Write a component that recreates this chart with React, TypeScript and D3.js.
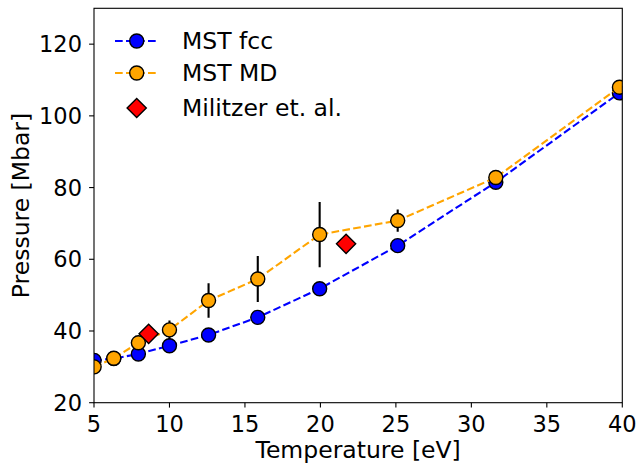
import React from "react";
import * as d3 from "d3";

// temperatures (eV) on a log grid, pressures in Mbar
const temps = [5.01, 6.31, 7.94, 10.0, 12.59, 15.85, 19.95, 25.12, 31.62, 39.81];
const fccPressure = [31.8, 32.3, 33.6, 35.9, 38.9, 43.8, 51.8, 63.8, 81.5, 106.4];
const mdPressure = [30.0, 32.4, 36.7, 40.3, 48.5, 54.5, 66.9, 70.8, 82.8, 108.0];
const mdError = [0.5, 0.5, 1.0, 2.6, 4.8, 6.4, 9.1, 3.1, 1.0, 1.0];
const militzerTemps = [8.62, 21.7];
const militzerPressure = [39.2, 64.3];

const xTicks = [5, 10, 15, 20, 25, 30, 35, 40];
const yTicks = [20, 40, 60, 80, 100, 120];
const legendLabels = ["MST fcc", "MST MD", "Militzer et. al."];

const W = 639;
const H = 464;
const m = { left: 94, right: 622.3, top: 8.3, bottom: 402.7 };
const font = "DejaVu Sans, sans-serif";
const tickFs = 22.5;
const labelFs = 23.5;

const BLUE = "#0000ff";
const ORANGE = "#ffa500";
const RED = "#ff0000";

const diamond = (r: number) => `M0,${-r}L${r},0L0,${r}L${-r},0Z`;

export default function App() {
  const x = d3.scaleLinear().domain([5, 40]).range([m.left, m.right]);
  const y = d3.scaleLinear().domain([20, 130]).range([m.bottom, m.top]);

  const line = d3
    .line<[number, number]>()
    .x((d) => x(d[0]))
    .y((d) => y(d[1]));

  const fcc: [number, number][] = temps.map((t, i) => [t, fccPressure[i]]);
  const md: [number, number][] = temps.map((t, i) => [t, mdPressure[i]]);

  const dash = "7.7,3.3";
  const legendY = [41, 73, 108];

  return (
    <svg
      width={W}
      height={H}
      style={{ position: "absolute", left: 0, top: 0, background: "#fff" }}
      fontFamily={font}
    >
      <defs>
        <clipPath id="plot">
          <rect x={m.left} y={m.top} width={m.right - m.left} height={m.bottom - m.top} />
        </clipPath>
      </defs>

      <g clipPath="url(#plot)">
        {/* MST fcc */}
        <path d={line(fcc) ?? ""} fill="none" stroke={BLUE} strokeWidth={2.1} strokeDasharray={dash} />
        {fcc.map((d, i) => (
          <circle key={"f" + i} cx={x(d[0])} cy={y(d[1])} r={7} fill={BLUE} stroke="#000" strokeWidth={1.4} />
        ))}

        {/* MST MD with error bars */}
        <path d={line(md) ?? ""} fill="none" stroke={ORANGE} strokeWidth={2.1} strokeDasharray={dash} />
        {md.map((d, i) => (
          <line
            key={"e" + i}
            x1={x(d[0])}
            x2={x(d[0])}
            y1={y(d[1] - mdError[i])}
            y2={y(d[1] + mdError[i])}
            stroke="#000"
            strokeWidth={2.1}
          />
        ))}
        {md.map((d, i) => (
          <circle key={"m" + i} cx={x(d[0])} cy={y(d[1])} r={7} fill={ORANGE} stroke="#000" strokeWidth={1.4} />
        ))}

        {/* Militzer */}
        {militzerTemps.map((t, i) => (
          <path
            key={"r" + i}
            d={diamond(9.6)}
            transform={`translate(${x(t)},${y(militzerPressure[i])})`}
            fill={RED}
            stroke="#000"
            strokeWidth={1.4}
          />
        ))}
      </g>

      {/* spines */}
      <rect
        x={m.left}
        y={m.top}
        width={m.right - m.left}
        height={m.bottom - m.top}
        fill="none"
        stroke="#000"
        strokeWidth={1.1}
      />

      {/* x axis */}
      {xTicks.map((t) => (
        <g key={"xt" + t} transform={`translate(${x(t)},${m.bottom})`}>
          <line y1={0} y2={4.9} stroke="#000" strokeWidth={1.1} />
          <text y={29} textAnchor="middle" fontSize={tickFs} fill="#000">
            {t}
          </text>
        </g>
      ))}
      <text x={(m.left + m.right) / 2} y={458} textAnchor="middle" fontSize={labelFs} fill="#000">
        Temperature [eV]
      </text>

      {/* y axis */}
      {yTicks.map((t) => (
        <g key={"yt" + t} transform={`translate(${m.left},${y(t)})`}>
          <line x1={0} x2={-4.9} stroke="#000" strokeWidth={1.1} />
          <text x={-12} dy="0.36em" textAnchor="end" fontSize={tickFs} fill="#000">
            {t}
          </text>
        </g>
      ))}
      <text
        transform={`translate(28.5,${(m.top + m.bottom) / 2}) rotate(-90)`}
        textAnchor="middle"
        fontSize={labelFs}
        fill="#000"
      >
        Pressure [Mbar]
      </text>

      {/* legend */}
      <g>
        <line x1={115} x2={158} y1={legendY[0]} y2={legendY[0]} stroke={BLUE} strokeWidth={2.1} strokeDasharray={dash} />
        <circle cx={136.7} cy={legendY[0]} r={7} fill={BLUE} stroke="#000" strokeWidth={1.4} />
        <line x1={115} x2={158} y1={legendY[1]} y2={legendY[1]} stroke={ORANGE} strokeWidth={2.1} strokeDasharray={dash} />
        <circle cx={136.7} cy={legendY[1]} r={7} fill={ORANGE} stroke="#000" strokeWidth={1.4} />
        <path d={diamond(9.6)} transform={`translate(136.7,${legendY[2]})`} fill={RED} stroke="#000" strokeWidth={1.4} />
        {legendLabels.map((l, i) => (
          <text key={l} x={182} y={legendY[i]} dy="0.36em" fontSize={labelFs} fill="#000">
            {l}
          </text>
        ))}
      </g>
    </svg>
  );
}
